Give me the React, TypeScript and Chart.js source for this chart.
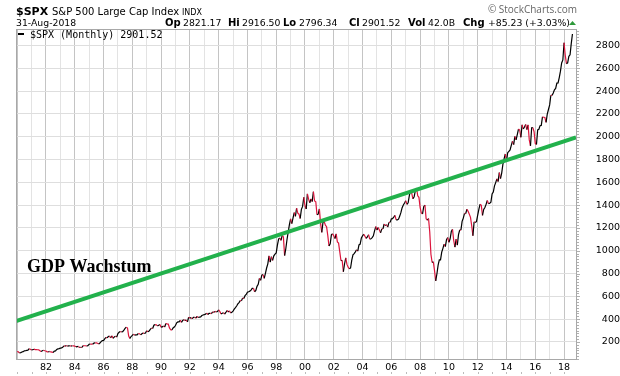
import React, { useEffect, useRef } from 'react';
import { Chart, registerables } from 'chart.js';

Chart.register(...registerables);

// Monthly closes of the S&P 500, Jan 1980 – Aug 2018
const startYear = 1980;
const closes1980s = [
  114.16, 113.66, 102.09, 106.29, 111.24, 114.24, 121.67, 122.38, 125.46, 127.47, 140.52, 135.76,
  129.55, 131.27, 136.0, 132.81, 132.59, 131.21, 130.92, 122.79, 116.18, 121.89, 126.35, 122.55,
  120.4, 113.11, 111.96, 116.44, 111.88, 109.61, 107.09, 119.51, 120.42, 133.71, 138.54, 140.64,
  145.3, 148.06, 152.96, 164.42, 162.39, 168.11, 162.56, 164.4, 166.07, 163.55, 166.4, 164.93,
  163.41, 157.06, 159.18, 160.05, 150.55, 153.18, 150.66, 166.68, 166.1, 166.09, 163.58, 167.24,
  179.63, 181.18, 180.66, 179.83, 189.55, 191.85, 190.92, 188.63, 182.08, 189.82, 202.17, 211.28,
  211.78, 226.92, 238.9, 235.52, 247.35, 250.84, 236.12, 252.93, 231.32, 243.98, 249.22, 242.17,
  274.08, 284.2, 291.7, 288.36, 290.1, 304.0, 318.66, 329.8, 321.83, 251.79, 230.3, 247.08,
  257.07, 267.82, 258.89, 261.33, 262.16, 273.5, 272.02, 261.52, 271.91, 278.97, 273.7, 277.72,
  297.47, 288.86, 294.87, 309.64, 320.52, 317.98, 346.08, 351.45, 349.15, 340.36, 345.99, 353.4,
];
const closes1990s = [
  329.08, 331.89, 339.94, 330.8, 361.23, 358.02, 356.15, 322.56, 306.05, 304.0, 322.22, 330.22,
  343.93, 367.07, 375.22, 375.35, 389.83, 371.16, 387.81, 395.43, 387.86, 392.46, 375.22, 417.09,
  408.79, 412.7, 403.69, 414.95, 415.35, 408.14, 424.21, 414.03, 417.8, 418.68, 431.35, 435.71,
  438.78, 443.38, 451.67, 440.19, 450.19, 450.53, 448.13, 463.56, 458.93, 467.83, 461.79, 466.45,
  481.61, 467.14, 445.77, 450.91, 456.5, 444.27, 458.26, 475.49, 462.69, 472.35, 453.69, 459.27,
  470.42, 487.39, 500.71, 514.71, 533.4, 544.75, 562.06, 561.88, 584.41, 581.5, 605.37, 615.93,
  636.02, 640.43, 645.5, 654.17, 669.12, 670.63, 639.95, 651.99, 687.31, 705.27, 757.02, 740.74,
  786.16, 790.82, 757.12, 801.34, 848.28, 885.14, 954.31, 899.47, 947.28, 914.62, 955.4, 970.43,
  980.28, 1049.34, 1101.75, 1111.75, 1090.82, 1133.84, 1120.67, 957.28, 1017.01, 1098.67, 1163.63, 1229.23,
  1279.64, 1238.33, 1286.37, 1335.18, 1301.84, 1372.71, 1328.72, 1320.41, 1282.71, 1362.93, 1388.91, 1469.25,
];
const closes2000s = [
  1394.46, 1366.42, 1498.58, 1452.43, 1420.6, 1454.6, 1430.83, 1517.68, 1436.51, 1429.4, 1314.95, 1320.28,
  1366.01, 1239.94, 1160.33, 1249.46, 1255.82, 1224.42, 1211.23, 1133.58, 1040.94, 1059.78, 1139.45, 1148.08,
  1130.2, 1106.73, 1147.39, 1076.92, 1067.14, 989.82, 911.62, 916.07, 815.28, 885.76, 936.31, 879.82,
  855.7, 841.15, 848.18, 916.92, 963.59, 974.5, 990.31, 1008.01, 995.97, 1050.71, 1058.2, 1111.92,
  1131.13, 1144.94, 1126.21, 1107.3, 1120.68, 1140.84, 1101.72, 1104.24, 1114.58, 1130.2, 1173.82, 1211.92,
  1181.27, 1203.6, 1180.59, 1156.85, 1191.5, 1191.33, 1234.18, 1220.33, 1228.81, 1207.01, 1249.48, 1248.29,
  1280.08, 1280.66, 1294.87, 1310.61, 1270.09, 1270.2, 1276.66, 1303.82, 1335.85, 1377.94, 1400.63, 1418.3,
  1438.24, 1406.82, 1420.86, 1482.37, 1530.62, 1503.35, 1455.27, 1473.99, 1526.75, 1549.38, 1481.14, 1468.36,
  1378.55, 1330.63, 1322.7, 1385.59, 1400.38, 1280.0, 1267.38, 1282.83, 1166.36, 968.75, 896.24, 903.25,
  825.88, 735.09, 797.87, 872.81, 919.14, 919.32, 987.48, 1020.62, 1057.08, 1036.19, 1095.63, 1115.1,
];
const closes2010s = [
  1073.87, 1104.49, 1169.43, 1186.69, 1089.41, 1030.71, 1101.6, 1049.33, 1141.2, 1183.26, 1180.55, 1257.64,
  1286.12, 1327.22, 1325.83, 1363.61, 1345.2, 1320.64, 1292.28, 1218.89, 1131.42, 1253.3, 1246.96, 1257.6,
  1312.41, 1365.68, 1408.47, 1397.91, 1310.33, 1362.16, 1379.32, 1406.58, 1440.67, 1412.16, 1416.18, 1426.19,
  1498.11, 1514.68, 1569.19, 1597.57, 1630.74, 1606.28, 1685.73, 1632.97, 1681.55, 1756.54, 1805.81, 1848.36,
  1782.59, 1859.45, 1872.34, 1883.95, 1923.57, 1960.23, 1930.67, 2003.37, 1972.29, 2018.05, 2067.56, 2058.9,
  1994.99, 2104.5, 2067.89, 2085.51, 2107.39, 2063.11, 2103.84, 1972.18, 1920.03, 2079.36, 2080.41, 2043.94,
  1940.24, 1932.23, 2059.74, 2065.3, 2096.95, 2098.86, 2173.6, 2170.95, 2168.27, 2126.15, 2198.81, 2238.83,
  2278.87, 2363.64, 2362.72, 2384.2, 2411.8, 2423.41, 2470.3, 2471.65, 2519.36, 2575.26, 2647.58, 2673.61,
  2823.81, 2713.83, 2640.87, 2648.05, 2705.27, 2718.37, 2816.29, 2901.52,
];

// "GDP Wachstum" trend line (start / end)
const gdpLineYears = [1979.92, 2018.83];
const gdpLineValues = [383, 1994];

// Axis ticks
const xGridYears = [
  1980, 1981, 1982, 1983, 1984, 1985, 1986, 1987, 1988, 1989, 1990, 1991, 1992, 1993, 1994, 1995,
  1996, 1997, 1998, 1999, 2000, 2001, 2002, 2003, 2004, 2005, 2006, 2007, 2008, 2009, 2010, 2011,
  2012, 2013, 2014, 2015, 2016, 2017, 2018,
];
const xLabelYears = [1982, 1984, 1986, 1988, 1990, 1992, 1994, 1996, 1998, 2000, 2002, 2004, 2006, 2008, 2010, 2012, 2014, 2016, 2018];
const xTickLabels = ['82', '84', '86', '88', '90', '92', '94', '96', '98', '00', '02', '04', '06', '08', '10', '12', '14', '16', '18'];
const yTickValues = [200, 400, 600, 800, 1000, 1200, 1400, 1600, 1800, 2000, 2200, 2400, 2600, 2800];

// Header texts
const headerSymbol = '$SPX';
const headerName = 'S&P 500 Large Cap Index';
const headerExchange = 'INDX';
const headerDate = '31-Aug-2018';
const quoteLabels = ['Op', 'Hi', 'Lo', 'Cl', 'Vol', 'Chg'];
const quoteValues = ['2821.17', '2916.50', '2796.34', '2901.52', '42.0B', '+85.23 (+3.03%)'];
const legendText = '$SPX (Monthly) 2901.52';
const annotationText = 'GDP Wachstum';
const copyrightText = '\u00A9 StockCharts.com';

const X_MIN = 1979.92;
const X_MAX = 2018.83;
const Y_MIN = 50;
const Y_MAX = 2945;

const RED = '#dc143c';
const GREEN = '#22b14c';
const SANS = '"DejaVu Sans", Verdana, sans-serif';

const overlayPlugin = {
  id: 'overlay',
  afterDatasetsDraw(chart: any) {
    const ctx = chart.ctx;
    ctx.save();
    ctx.fillStyle = '#000';
    ctx.font = 'bold 18px "Liberation Serif", "Times New Roman", serif';
    ctx.textBaseline = 'alphabetic';
    ctx.textAlign = 'left';
    ctx.fillText(annotationText, 27, 272);
    ctx.restore();
  },
  afterDraw(chart: any) {
    const ctx = chart.ctx;
    const { left, top, right, bottom } = chart.chartArea;
    const yScale = chart.scales.y;
    const xScale = chart.scales.x;
    ctx.save();
    // frame
    ctx.strokeStyle = '#a8a8a8';
    ctx.lineWidth = 1;
    ctx.strokeRect(left + 0.5, top + 0.5, right - left, bottom - top);
    // minor ticks on the right axis
    ctx.strokeStyle = '#b0b0b0';
    ctx.beginPath();
    for (let v = 50; v <= Y_MAX; v += 25) {
      const y = Math.round(yScale.getPixelForValue(v)) + 0.5;
      const len = v % 200 === 0 ? 3 : 2;
      ctx.moveTo(right + 1, y);
      ctx.lineTo(right + 1 + len, y);
    }
    ctx.stroke();
    // small marks below x labels
    ctx.fillStyle = '#bbbbbb';
    for (const yr of xGridYears) {
      const x = Math.round(xScale.getPixelForValue(yr));
      ctx.fillRect(x, 372, 1, 2);
    }

    // header line 1
    ctx.textAlign = 'left';
    ctx.textBaseline = 'alphabetic';
    ctx.fillStyle = '#000';
    ctx.font = `bold 11px ${SANS}`;
    ctx.fillText(headerSymbol, 16, 15);
    ctx.font = `10px ${SANS}`;
    ctx.fillText(headerName, 52, 15);
    ctx.font = `8px ${SANS}`;
    ctx.fillText(headerExchange, 182, 15);

    // copyright
    ctx.fillStyle = '#666';
    ctx.font = '10px "Open Sans", sans-serif';
    ctx.textAlign = 'right';
    ctx.fillText(copyrightText, 577, 13);

    // header line 2
    ctx.textAlign = 'left';
    ctx.fillStyle = '#000';
    ctx.font = `9.3px ${SANS}`;
    ctx.fillText(headerDate, 16, 26);
    const labelX = [165, 228, 283, 349, 408, 463];
    const valueX = [183, 242, 299, 362, 428, 488];
    for (let i = 0; i < quoteLabels.length; i++) {
      ctx.font = `bold 10px ${SANS}`;
      ctx.fillText(quoteLabels[i], labelX[i], 26);
      ctx.font = `9.3px ${SANS}`;
      ctx.fillText(quoteValues[i], valueX[i], 26);
    }
    // up triangle
    ctx.fillStyle = '#2e9a3a';
    ctx.beginPath();
    ctx.moveTo(569, 25);
    ctx.lineTo(576, 25);
    ctx.lineTo(572.5, 21);
    ctx.closePath();
    ctx.fill();

    // legend
    ctx.fillStyle = '#000';
    ctx.fillRect(18, 33, 6, 2);
    ctx.font = '10px "DejaVu Sans Mono", monospace';
    ctx.fillText(legendText, 30, 38);
    ctx.restore();
  },
};

export default function App() {
  const canvasRef = useRef<HTMLCanvasElement | null>(null);

  useEffect(() => {
    document.body.style.margin = '0';
    const canvas = canvasRef.current;
    if (!canvas) return;

    const closes = [...closes1980s, ...closes1990s, ...closes2000s, ...closes2010s];
    const spxPoints = closes.map((c, i) => ({ x: startYear + i / 12, y: c }));
    const gdpPoints = gdpLineYears.map((yr, i) => ({ x: yr, y: gdpLineValues[i] }));

    const chart = new Chart(canvas, {
      type: 'line',
      data: {
        datasets: [
          {
            label: 'GDP Wachstum',
            data: gdpPoints,
            borderColor: GREEN,
            borderWidth: 4,
            pointRadius: 0,
            order: 0,
          },
          {
            label: '$SPX (Monthly)',
            data: spxPoints,
            borderColor: '#000',
            borderWidth: 1.2,
            pointRadius: 0,
            order: 1,
            segment: {
              borderColor: (c: any) => (c.p1.parsed.y < c.p0.parsed.y ? RED : '#000'),
            },
          },
        ],
      },
      options: {
        animation: false,
        responsive: false,
        maintainAspectRatio: false,
        layout: { padding: { left: 16, top: 29, right: 0, bottom: 0 } },
        plugins: { legend: { display: false }, tooltip: { enabled: false } },
        elements: { line: { tension: 0 }, point: { radius: 0 } },
        scales: {
          x: {
            type: 'linear',
            min: X_MIN,
            max: X_MAX,
            afterBuildTicks: (s: any) => {
              s.ticks = xGridYears.map((v) => ({ value: v }));
            },
            afterFit: (s: any) => {
              s.height = 17;
            },
            ticks: {
              autoSkip: false,
              maxRotation: 0,
              padding: 3,
              color: '#000',
              font: { family: SANS, size: 9.5 },
              callback: (v: any) => {
                const idx = xLabelYears.indexOf(Math.round(Number(v)));
                return idx >= 0 ? xTickLabels[idx] : '';
              },
            },
            grid: {
              drawTicks: false,
              color: (c: any) => (c.tick && Math.round(c.tick.value) % 2 === 0 ? '#c4c4c4' : '#e3e3e3'),
            },
            border: { display: false },
          },
          y: {
            type: 'linear',
            position: 'right',
            min: Y_MIN,
            max: Y_MAX,
            afterBuildTicks: (s: any) => {
              s.ticks = yTickValues.map((v) => ({ value: v }));
            },
            afterFit: (s: any) => {
              s.width = 44;
            },
            ticks: {
              crossAlign: 'far',
              padding: 5,
              color: '#000',
              font: { family: SANS, size: 9.5 },
              callback: (v: any) => String(v),
            },
            grid: { drawTicks: false, color: '#dedede' },
            border: { display: false },
          },
        },
      },
      plugins: [overlayPlugin],
    } as any);

    return () => chart.destroy();
  }, []);

  return (
    <div style={{ width: 620, height: 376, background: '#fff' }}>
      <canvas ref={canvasRef} width={620} height={376} style={{ display: 'block' }} />
    </div>
  );
}
